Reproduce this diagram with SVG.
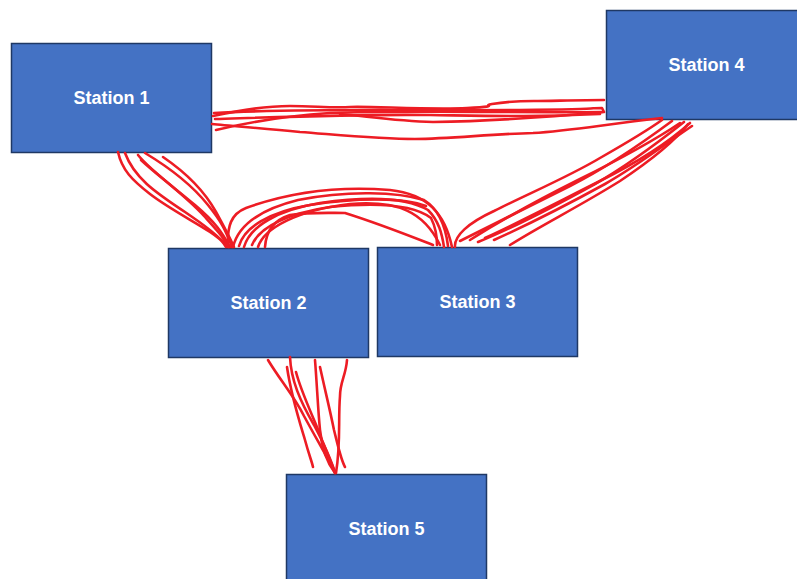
<svg xmlns="http://www.w3.org/2000/svg" width="797" height="579" viewBox="0 0 797 579">
  <style>
    .box { fill: #4472C4; stroke: #1F3864; stroke-width: 1.5; }
    .lbl { fill: #FFFFFF; font-family: "Liberation Sans", Arial, sans-serif; font-weight: bold; font-size: 18px; text-anchor: middle; }
    .ink { fill: none; stroke: #ED1C24; stroke-width: 2.6; stroke-linecap: round; stroke-linejoin: round; }
  </style>
  <rect width="797" height="579" fill="#FFFFFF"/>

  <!-- stations -->
  <g id="station-1">
    <rect class="box" x="11.5" y="43.5" width="200" height="109"/>
    <text class="lbl" x="111.5" y="104">Station 1</text>
  </g>
  <g id="station-4">
    <rect class="box" x="606.5" y="10.5" width="200" height="109"/>
    <text class="lbl" x="706.5" y="71">Station 4</text>
  </g>
  <g id="station-2">
    <rect class="box" x="168.5" y="248.5" width="200" height="109"/>
    <text class="lbl" x="268.5" y="309">Station 2</text>
  </g>
  <g id="station-3">
    <rect class="box" x="377.5" y="247.5" width="200" height="109"/>
    <text class="lbl" x="477.5" y="308">Station 3</text>
  </g>
  <g id="station-5">
    <rect class="box" x="286.5" y="474.5" width="200" height="112"/>
    <text class="lbl" x="386.5" y="535">Station 5</text>
  </g>

  <!-- hand-drawn links -->
  <g id="connectors" class="ink">
    <!-- station 1 to station 4 -->
    <path d="M213,116 C240,110 265,106 290,106 S330,108 350,107 S430,110 467,108 S480,106 492,104 S520,101 534,101 S580,100 604,100"/>
    <path d="M214,113 C300,108 420,111 520,110 S580,108 602,108 L604,112 C560,116 500,121 433,122 C395,121 365,116 340,114"/>
    <path d="M216,130 C245,123 285,116 330,113 C400,110 500,113 602,112"/>
    <path d="M212,124 C230,126 260,128 300,132 C340,135 380,139 415,139 C450,139 490,134 533,133 C570,131 600,125 662,118"/>
    <path d="M215,119 C280,117 360,114 430,115 S530,117 600,114"/>
    <!-- station 1 to station 2 -->
    <path d="M118,152 C122,170 132,180 150,194 S195,222 210,232 S222,242 226,247"/>
    <path d="M125,153 C135,180 160,195 185,212 S215,234 229,247"/>
    <path d="M138,155 C150,170 175,188 195,205 S222,232 230,247"/>
    <path d="M145,153 C170,168 192,185 208,205 S226,232 232,247"/>
    <path d="M163,157 C185,172 205,192 216,212 S229,236 234,247"/>
    <path d="M141,160 C158,176 186,196 204,216 S224,238 228,247"/>
    <!-- station 2 to station 3 -->
    <path d="M228,247 C227,226 231,214 246,208 C290,192 340,186 390,190 C428,194 445,214 452,247"/>
    <path d="M233,247 C238,226 258,210 298,200 C348,190 398,192 424,200 C440,210 446,230 448,246"/>
    <path d="M244,247 C250,226 278,210 320,203 C370,196 408,198 428,210 C439,221 442,234 444,247"/>
    <path d="M252,245 C260,226 290,213 330,207 C380,202 414,205 431,218 C436,228 437,238 437,245"/>
    <path d="M265,247 C266,232 274,220 290,215 C310,212 328,213 345,213 C380,224 410,236 433,245"/>
    <path d="M258,247 C264,228 298,210 350,204 C398,200 424,212 440,245"/>
    <path d="M239,246 C244,228 268,212 310,205 C360,197 405,198 426,206"/>
    <!-- station 3 to station 4 -->
    <path d="M455,247 C454,236 468,223 494,211 C530,193 570,176 600,158 C628,142 648,130 662,120"/>
    <path d="M470,240 C500,221 540,199 580,179 C620,159 655,140 680,123"/>
    <path d="M485,238 C520,222 560,201 600,181 C640,161 670,141 690,123"/>
    <path d="M510,245 C540,226 580,206 620,181 C650,161 675,141 688,124"/>
    <path d="M460,241 C490,226 530,206 570,186 C610,166 645,141 672,121"/>
    <path d="M478,242 C510,229 555,206 595,184 C630,164 660,141 684,122"/>
    <path d="M494,240 C525,226 565,206 605,184 C640,164 668,142 692,126"/>
    <!-- station 2 to station 5 -->
    <path d="M268,360 C280,380 294,396 304,416 C317,440 329,460 335,473"/>
    <path d="M290,357 C291,380 300,401 314,425 C325,446 332,462 335,473"/>
    <path d="M287,367 C291,395 299,420 305,440 C309,455 312,462 313,467"/>
    <path d="M315,360 C317,385 318,410 320,430 C322,450 329,465 335,473"/>
    <path d="M320,367 C325,390 330,410 334,430 C339,450 341,460 345,467"/>
    <path d="M347,360 C346,375 340,382 340,396 C338,420 341,442 336,473"/>
    <path d="M296,372 C302,395 315,420 322,440 C328,455 332,465 335,472"/>
  </g>
</svg>
